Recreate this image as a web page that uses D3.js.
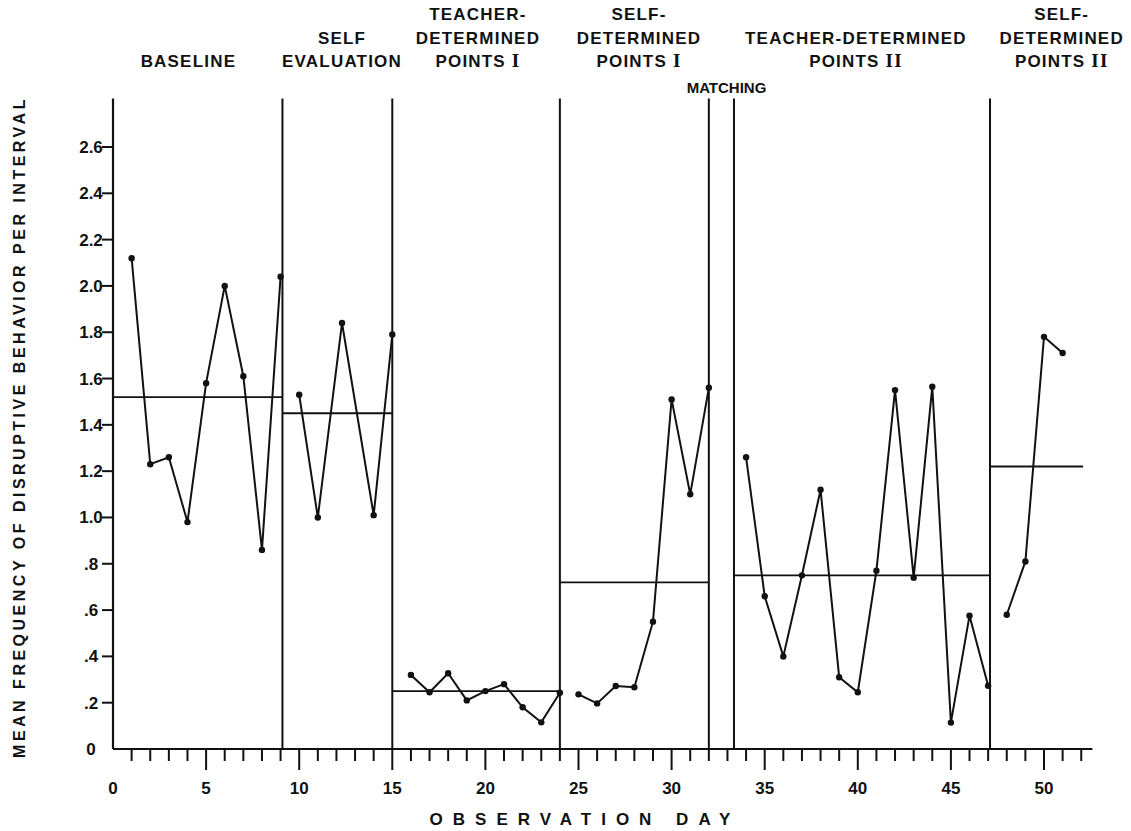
<!DOCTYPE html>
<html>
<head>
<meta charset="utf-8">
<script src="https://cdn.jsdelivr.net/npm/d3@7"></script>
<style>
  body { margin: 0; background: #fff; }
  text { font-family: "Liberation Sans", Arial, sans-serif; font-weight: bold; fill: #111; }
  .roman { font-family: "Liberation Serif", serif; font-weight: bold; }
</style>
</head>
<body>
<svg id="chart" width="1131" height="831"></svg>
<script>
// observation days and mean disruptive behaviour, one pair of arrays per phase
var baselineDays = [1, 2, 3, 4, 5, 6, 7, 8, 9];
var baselineVals = [2.12, 1.23, 1.26, 0.98, 1.58, 2.00, 1.61, 0.86, 2.04];
var selfEvalDays = [10, 11, 12.3, 14, 15];
var selfEvalVals = [1.53, 1.00, 1.84, 1.01, 1.79];
var teacher1Days = [16, 17, 18, 19, 20, 21, 22, 23, 24];
var teacher1Vals = [0.32, 0.245, 0.327, 0.21, 0.25, 0.28, 0.18, 0.115, 0.243];
var self1Days = [25, 26, 27, 28, 29, 30, 31, 32];
var self1Vals = [0.236, 0.197, 0.272, 0.267, 0.55, 1.51, 1.10, 1.56];
var teacher2Days = [34, 35, 36, 37, 38, 39, 40, 41, 42, 43, 44, 45, 46, 47];
var teacher2Vals = [1.26, 0.66, 0.40, 0.75, 1.12, 0.31, 0.245, 0.77, 1.55, 0.74, 1.565, 0.114, 0.576, 0.273];
var self2Days = [48, 49, 50, 51];
var self2Vals = [0.58, 0.81, 1.78, 1.71];

// phase means: [from day, to day, mean]
var meanFrom = [0, 9.1, 15, 24, 33.35, 47.1];
var meanTo   = [9.1, 15, 24, 32, 47.1, 52.1];
var meanVals = [1.52, 1.45, 0.25, 0.72, 0.75, 1.22];

// phase change lines (day)
var phaseLines = [9.1, 15, 24, 32, 33.35, 47.1];

var yTicks = [0, 0.2, 0.4, 0.6, 0.8, 1.0, 1.2, 1.4, 1.6, 1.8, 2.0, 2.2, 2.4, 2.6];
var yTickLabels = ["0", ".2", ".4", ".6", ".8", "1.0", "1.2", "1.4", "1.6", "1.8", "2.0", "2.2", "2.4", "2.6"];
var xMajor = [0, 5, 10, 15, 20, 25, 30, 35, 40, 45, 50];

var phaseNames = [
  ["BASELINE"],
  ["SELF", "EVALUATION"],
  ["TEACHER-", "DETERMINED", "POINTS |I"],
  ["SELF-", "DETERMINED", "POINTS |I"],
  ["TEACHER-DETERMINED", "POINTS |II"],
  ["SELF-", "DETERMINED", "POINTS |II"]
];
// label centre (in days) for each phase heading
var labelAt = [4.05, 12.3, 19.6, 28.25, 39.9, 50.95];

var svg = d3.select("#chart");

var x = d3.scaleLinear().domain([0, 50]).range([113, 1044]);
var y = d3.scaleLinear().domain([0, 2.6]).range([749, 147]);
var xEnd = 52.6, yTop = 2.81;

var g = svg.append("g");

// axes lines
g.append("line").attr("x1", x(0)).attr("x2", x(xEnd)).attr("y1", y(0)).attr("y2", y(0))
  .attr("stroke", "#111").attr("stroke-width", 2.2);
g.append("line").attr("x1", x(0)).attr("x2", x(0)).attr("y1", y(0)).attr("y2", y(yTop))
  .attr("stroke", "#111").attr("stroke-width", 2.2);

// x ticks every day, longer every fifth
var dayTicks = d3.range(1, 53);
g.selectAll(".xt").data(dayTicks).enter().append("line")
  .attr("x1", d => x(d)).attr("x2", d => x(d))
  .attr("y1", y(0)).attr("y2", d => y(0) + (d % 5 == 0 ? 21 : 12))
  .attr("stroke", "#111").attr("stroke-width", 2);
g.selectAll(".xl").data(xMajor).enter().append("text")
  .attr("x", d => x(d)).attr("y", 794)
  .attr("text-anchor", "middle").attr("font-size", 17)
  .text(d => d);

// y ticks
g.selectAll(".yt").data(yTicks.slice(1)).enter().append("line")
  .attr("x1", x(0) - 11).attr("x2", x(0))
  .attr("y1", d => y(d)).attr("y2", d => y(d))
  .attr("stroke", "#111").attr("stroke-width", 2);
g.selectAll(".yl").data(yTicks).enter().append("text")
  .attr("x", 91).attr("y", d => y(d) + 6)
  .attr("text-anchor", "middle").attr("font-size", 17)
  .text((d, i) => yTickLabels[i]);

// axis titles
svg.append("text")
  .attr("x", 585).attr("y", 825)
  .attr("text-anchor", "middle").attr("font-size", 17)
  .attr("letter-spacing", 10)
  .text("OBSERVATION DAY");
svg.append("text")
  .attr("transform", "translate(25,427) rotate(-90)")
  .attr("text-anchor", "middle").attr("font-size", 16)
  .attr("letter-spacing", 3.5)
  .text("MEAN FREQUENCY OF DISRUPTIVE BEHAVIOR PER INTERVAL");

// phase lines
g.selectAll(".pl").data(phaseLines).enter().append("line")
  .attr("x1", d => x(d)).attr("x2", d => x(d))
  .attr("y1", y(0)).attr("y2", y(yTop))
  .attr("stroke", "#111").attr("stroke-width", 2);

// means
g.selectAll(".mean").data(meanVals).enter().append("line")
  .attr("x1", (d, i) => x(meanFrom[i])).attr("x2", (d, i) => x(meanTo[i]))
  .attr("y1", d => y(d)).attr("y2", d => y(d))
  .attr("stroke", "#111").attr("stroke-width", 1.8);

// data series
var series = [
  [baselineDays, baselineVals],
  [selfEvalDays, selfEvalVals],
  [teacher1Days, teacher1Vals],
  [self1Days, self1Vals],
  [teacher2Days, teacher2Vals],
  [self2Days, self2Vals]
];
var line = d3.line().x(d => x(d[0])).y(d => y(d[1]));
series.forEach(function(s) {
  var pts = s[0].map((d, i) => [d, s[1][i]]);
  g.append("path").datum(pts)
    .attr("fill", "none").attr("stroke", "#111").attr("stroke-width", 2)
    .attr("d", line);
  g.selectAll(null).data(pts).enter().append("circle")
    .attr("cx", d => x(d[0])).attr("cy", d => y(d[1])).attr("r", 3.2)
    .attr("fill", "#111");
});

// phase headings (bottom line sits at y 67)
phaseNames.forEach(function(lines, i) {
  var n = lines.length;
  lines.forEach(function(str, j) {
    var t = svg.append("text")
      .attr("x", x(labelAt[i])).attr("y", 67 - (n - 1 - j) * 23.5)
      .attr("text-anchor", "middle").attr("font-size", 17)
      .attr("letter-spacing", 1.2);
    var parts = str.split("|");
    t.append("tspan").text(parts[0]);
    if (parts.length > 1) t.append("tspan").attr("class", "roman").attr("font-size", 19).text(parts[1]);
  });
});
svg.append("text")
  .attr("x", x(32.95)).attr("y", 93)
  .attr("text-anchor", "middle").attr("font-size", 15)
  .text("MATCHING");
</script>
</body>
</html>
